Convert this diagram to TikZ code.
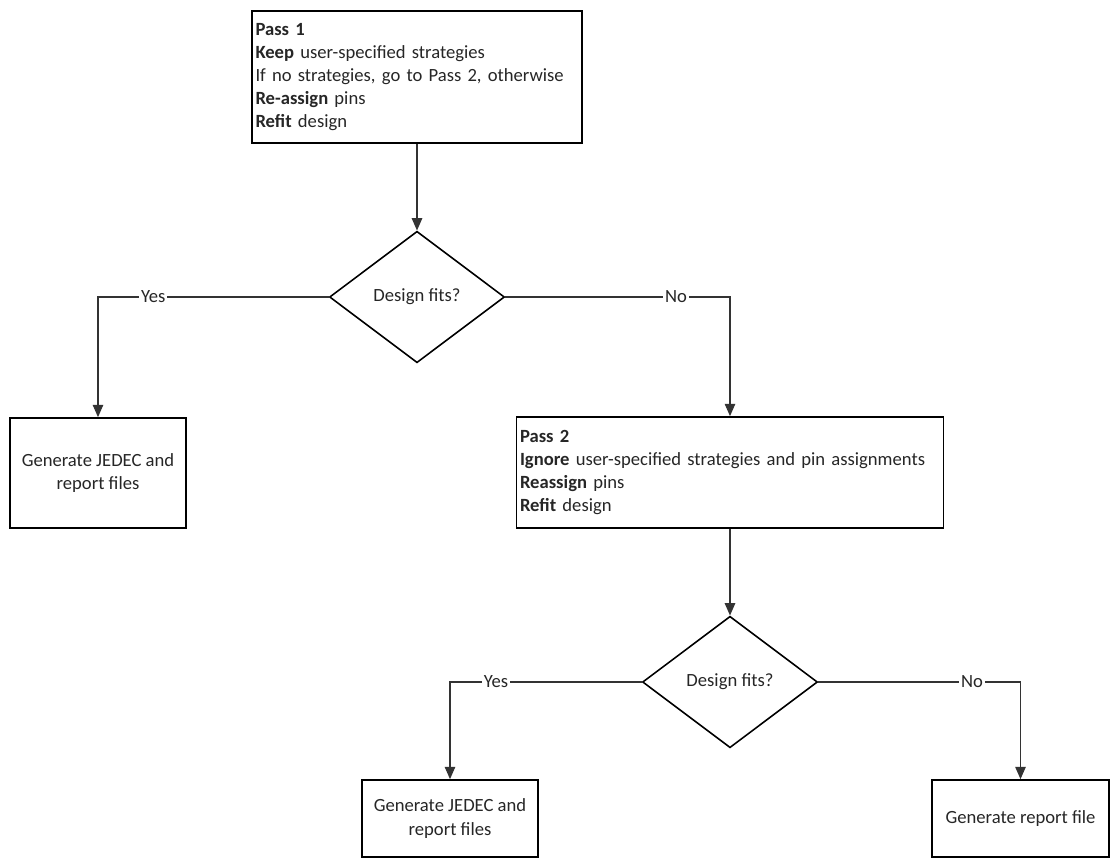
\documentclass[tikz,border=0pt]{standalone}
\usepackage{fontspec}
\setmainfont{Carlito}
\usetikzlibrary{shapes.geometric,arrows.meta}

\tikzset{
  txt/.style={font=\fontsize{10.6}{13.2}\selectfont, text=black!85},
  passbox/.style={txt, draw=black, line width=1pt, rectangle, align=left,
    inner xsep=0.07cm, inner ysep=0pt},
  genbox/.style={txt, draw=black, line width=1pt, rectangle, align=center,
    minimum width=3.52cm, inner sep=0pt},
  decide/.style={txt, draw=black, line width=0.9pt, diamond, inner sep=0pt,
    minimum width=3.5cm, minimum height=2.63cm},
  flow/.style={draw=black!80, line width=0.6pt, -{Triangle[length=7pt,width=6pt]}},
  lbl/.style={txt, fill=white, inner sep=1pt, pos=0.38}
}

\begin{document}
\begin{tikzpicture}
  \useasboundingbox (0,0) rectangle (22.34,-17.2);
  % first pass
  \node[passbox, text width=6.46cm, minimum height=2.64cm] (pass1) at (8.34,-1.54)
    {\textbf{Pass 1}\\ \textbf{Keep} user-specified strategies\\
     If no strategies, go to Pass 2, otherwise\\ \textbf{Re-assign} pins\\
     \textbf{Refit} design};
  \node[decide] (fit1) at (8.34,-5.94) {Design fits?};
  \node[genbox, minimum height=2.2cm] (jedec1) at (1.96,-9.46)
    {Generate JEDEC and\\ report files};
  % second pass
  \node[passbox, text width=8.4cm, minimum height=2.22cm] (pass2) at (14.6,-9.45)
    {\textbf{Pass 2}\\ \textbf{Ignore} user-specified strategies and pin assignments\\
     \textbf{Reassign} pins\\ \textbf{Refit} design};
  \node[decide] (fit2) at (14.6,-13.64) {Design fits?};
  \node[genbox, minimum height=1.54cm] (jedec2) at (9.0,-16.37)
    {Generate JEDEC and\\ report files};
  \node[genbox, minimum width=3.54cm, minimum height=1.54cm] (report) at (20.41,-16.37)
    {Generate report file};
  % connectors
  \draw[flow] (pass1) -- (fit1);
  \draw[flow] (fit1) -| node[lbl]{Yes} (jedec1);
  \draw[flow] (fit1) -| node[lbl]{No} (pass2);
  \draw[flow] (pass2) -- (fit2);
  \draw[flow] (fit2) -| node[lbl]{Yes} (jedec2);
  \draw[flow] (fit2) -| node[lbl]{No} (report);
\end{tikzpicture}
\end{document}
